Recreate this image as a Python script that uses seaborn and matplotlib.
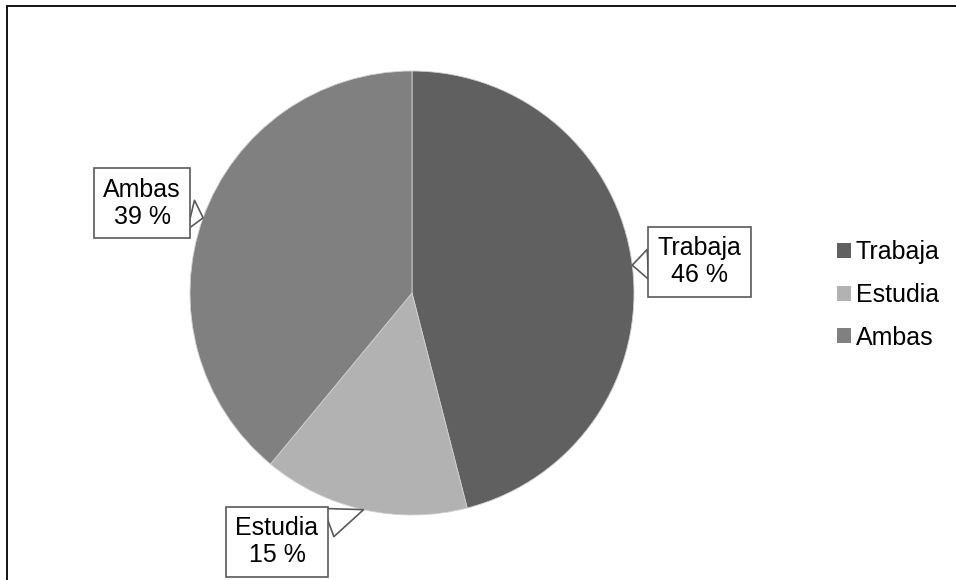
import numpy as np
import matplotlib
matplotlib.use("Agg")
import matplotlib.pyplot as plt
import seaborn as sns
from matplotlib.patches import Patch, Rectangle

labels = ["Trabaja", "Estudia", "Ambas"]
values = [46, 15, 39]
colors = ["#606060", "#b2b2b2", "#808080"]
# where each callout box sits, in pie-radius units (layout only)
label_pos = [(1.297, 0.14), (-0.608, -1.12), (-1.216, 0.405)]

sns.set_theme(style="white")
plt.rcParams["font.family"] = ["Liberation Sans", "DejaVu Sans"]
plt.rcParams["text.color"] = "black"

fig = plt.figure(figsize=(9.56, 5.8), dpi=100)
ax = fig.add_axes([190 / 956, 65 / 580, 444 / 956, 444 / 580])

wedges, _ = ax.pie(values, colors=colors, startangle=90, counterclock=False,
                   wedgeprops=dict(edgecolor="#d0d0d0", linewidth=0.6))
ax.set_xlim(-1, 1)
ax.set_ylim(-1, 1)
ax.set_aspect("equal")
ax.axis("off")

for w, lab, val, pos in zip(wedges, labels, values, label_pos):
    mid = np.deg2rad((w.theta1 + w.theta2) / 2)
    ax.annotate(f"{lab}\n{val} %", xy=(np.cos(mid), np.sin(mid)), xytext=pos,
                ha="center", va="center", fontsize=18, linespacing=1.15,
                color="black", annotation_clip=False, zorder=5,
                bbox=dict(boxstyle="square,pad=0.38", fc="white", ec="#5a5a5a", lw=1.2),
                arrowprops=dict(arrowstyle="wedge,tail_width=1.2,shrink_factor=0.5",
                                fc="white", ec="#5a5a5a", lw=1.2,
                                shrinkA=0, shrinkB=0))

handles = [Patch(facecolor=c, edgecolor="none", label=l) for c, l in zip(colors, labels)]
fig.legend(handles=handles, loc="center left", bbox_to_anchor=(827 / 956, 1 - 295 / 580),
           frameon=False, fontsize=18, handlelength=0.55, handleheight=0.55,
           handletextpad=0.2, labelspacing=0.75, borderaxespad=0, labelcolor="black")

# chart frame (runs off the right and bottom edges)
fig.patches.append(Rectangle((7 / 956, -0.1), 1.2, 1.1 - 6 / 580, transform=fig.transFigure,
                             fill=False, edgecolor="black", linewidth=1.3))

fig.savefig("out.png", dpi=100)
